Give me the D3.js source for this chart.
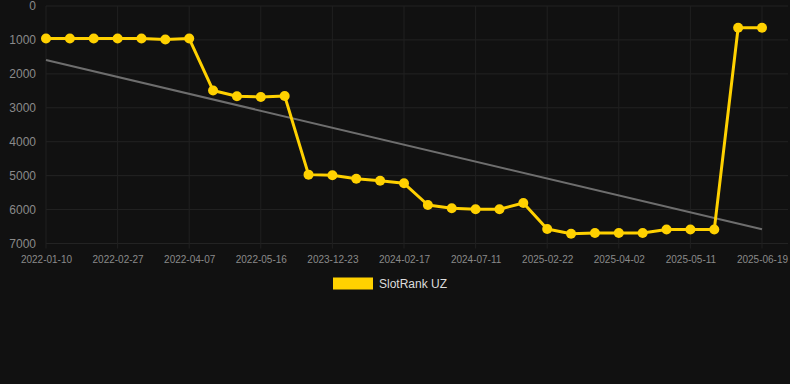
<!DOCTYPE html>
<html><head><meta charset="utf-8">
<script src="https://cdn.jsdelivr.net/npm/d3@7"></script>
<style>
html,body{margin:0;padding:0;background:#111111;}
svg{display:block;font-family:"Liberation Sans",Arial,Helvetica,sans-serif;}
</style></head>
<body>
<svg id="c" width="790" height="384"></svg>
<script>
const dates = ["2022-01-10","2022-01-26","2022-02-11","2022-02-27","2022-03-14","2022-03-24","2022-04-07","2022-04-20","2022-05-03","2022-05-16","2023-10-01","2023-11-10","2023-12-23","2024-01-10","2024-01-28","2024-02-17","2024-03-30","2024-05-15","2024-07-11","2024-09-01","2024-12-10","2025-02-22","2025-03-05","2025-03-18","2025-04-02","2025-04-15","2025-04-28","2025-05-11","2025-05-24","2025-06-06","2025-06-19"];
const ranks = [960,960,960,960,960,990,960,2490,2660,2680,2650,4970,4990,5090,5150,5225,5865,5960,5990,5990,5805,6570,6715,6690,6690,6690,6590,6590,6590,640,640];
const yTicks = [0,1000,2000,3000,4000,5000,6000,7000];
const seriesName = "SlotRank UZ";

(function () {
const svg = d3.select("#c");
const mLeft = 46, mRight = 762, mTop = 6, mBottom = 243.5, gridRight = 788;
const x = d3.scalePoint().domain(d3.range(dates.length)).range([mLeft, mRight]);
const y = d3.scaleLinear().domain([0, 7000]).range([mTop, mBottom]);

const gold = "#ffd100";
const labelIdx = d3.range(0, dates.length, 3);

// grid
const g = svg.append("g");
g.selectAll("line.h").data(yTicks).join("line").attr("class", "h")
  .attr("x1", mLeft).attr("x2", gridRight)
  .attr("y1", d => y(d)).attr("y2", d => y(d))
  .attr("stroke", "#232323").attr("stroke-width", 1);
g.selectAll("line.v").data(labelIdx).join("line").attr("class", "v")
  .attr("x1", d => x(d)).attr("x2", d => x(d))
  .attr("y1", mTop).attr("y2", mBottom + 5)
  .attr("stroke", "#202020").attr("stroke-width", 1);

// y axis labels
const yAxis = d3.axisLeft(y).tickValues(yTicks).tickSize(0).tickPadding(0).tickFormat(d3.format("d"));
svg.append("g").attr("transform", `translate(36,0)`).call(yAxis)
  .call(s => s.select(".domain").remove())
  .call(s => s.selectAll("text").attr("fill", "#8a8a8a").attr("font-size", 12).attr("font-family", "Liberation Sans, Arial, sans-serif"));

// x axis labels
const xAxis = d3.axisBottom(x).tickValues(labelIdx).tickSize(0).tickPadding(0).tickFormat(i => dates[i]);
svg.append("g").attr("transform", `translate(0,${mBottom + 12})`).call(xAxis)
  .call(s => s.select(".domain").remove())
  .call(s => s.selectAll("text").attr("fill", "#8a8a8a").attr("font-size", 10).attr("font-family", "Liberation Sans, Arial, sans-serif"));

// trend line (linear regression)
const n = ranks.length;
const mx = d3.mean(d3.range(n)), my = d3.mean(ranks);
const sxy = d3.sum(ranks, (v, i) => (i - mx) * (v - my));
const sxx = d3.sum(d3.range(n), i => (i - mx) * (i - mx));
const slope = sxy / sxx, icpt = my - slope * mx;
svg.append("line")
  .attr("x1", x(0)).attr("y1", y(icpt))
  .attr("x2", x(n - 1)).attr("y2", y(icpt + slope * (n - 1)))
  .attr("stroke", "#6e6e6e").attr("stroke-width", 2);

// series line
const line = d3.line().x((d, i) => x(i)).y(d => y(d));
svg.append("path").datum(ranks).attr("d", line)
  .attr("fill", "none").attr("stroke", gold).attr("stroke-width", 3).attr("stroke-linejoin", "round");
svg.selectAll("circle.p").data(ranks).join("circle").attr("class", "p")
  .attr("cx", (d, i) => x(i)).attr("cy", d => y(d)).attr("r", 5)
  .attr("fill", gold);

// legend
svg.append("rect").attr("x", 333).attr("y", 277.5).attr("width", 40).attr("height", 12).attr("fill", gold);
svg.append("text").attr("x", 379).attr("y", 283.5).attr("dominant-baseline", "central")
  .attr("fill", "#dddddd").attr("font-size", 12).text(seriesName);
})();
</script>
</body></html>
